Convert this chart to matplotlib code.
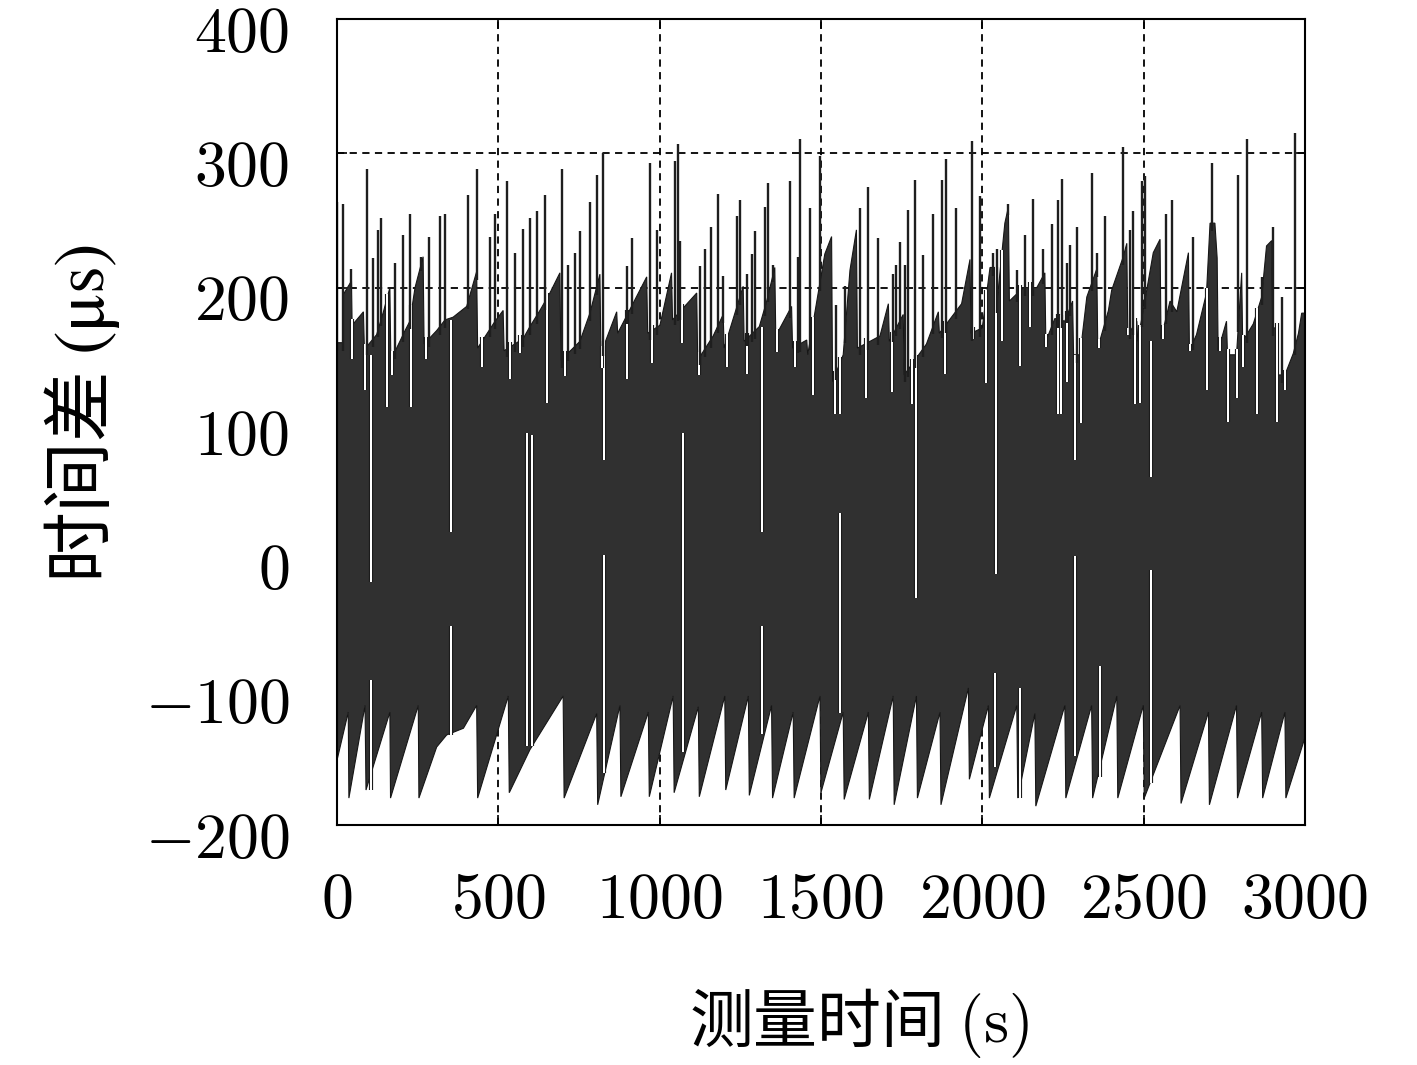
import numpy as np
import matplotlib
matplotlib.use('Agg')
import matplotlib.pyplot as plt
from matplotlib.transforms import ScaledTranslation

plt.rcParams['mathtext.fontset'] = 'cm'
plt.rcParams['font.family'] = ['Noto Sans CJK SC', 'DejaVu Sans']

# lower envelope of the dense signal (sawtooth vertices)
lower_x = [0, 35, 37, 87, 90, 164, 166, 252, 254, 309, 340, 392, 433, 436, 531, 534,
           598, 701, 704, 805, 808, 877, 880, 965, 968, 1042, 1045, 1120, 1123, 1202,
           1205, 1275, 1278, 1347, 1350, 1414, 1417, 1497, 1500, 1569, 1572, 1647,
           1650, 1724, 1727, 1796, 1799, 1869, 1872, 1957, 1960, 2019, 2022, 2107,
           2110, 2163, 2166, 2256, 2259, 2339, 2342, 2417, 2420, 2499, 2502, 2613,
           2616, 2701, 2704, 2788, 2791, 2866, 2869, 2938, 2941, 3000]
lower_y = [-152, -116, -180, -111, -174, -116, -180, -111, -180, -142, -133, -128, -111,
           -180, -104, -176, -144, -104, -180, -117, -185, -111, -179, -116, -179, -104,
           -176, -112, -179, -104, -174, -104, -178, -111, -180, -116, -180, -104, -176,
           -116, -181, -116, -181, -104, -185, -104, -180, -116, -185, -98, -166, -111,
           -180, -111, -180, -117, -186, -111, -180, -111, -180, -104, -180, -111, -180,
           -111, -184, -116, -185, -111, -180, -116, -180, -116, -180, -135]

# upper envelope of the dense part
upper_x = [0, 18, 20, 45, 47, 82, 85, 123, 144, 164, 167, 211, 226, 242, 267, 270, 309,
           335, 360, 402, 433, 436, 490, 515, 518, 577, 598, 629, 660, 691, 694, 753, 784,
           815, 818, 867, 870, 960, 963, 1001, 1037, 1040, 1115, 1118, 1166, 1197, 1200,
           1259, 1262, 1309, 1332, 1357, 1360, 1409, 1412, 1456, 1459, 1512, 1533, 1536,
           1569, 1590, 1610, 1613, 1683, 1709, 1712, 1755, 1758, 1827, 1864, 1867, 1936,
           1962, 1965, 2000, 2024, 2039, 2042, 2070, 2081, 2084, 2127, 2169, 2194, 2197,
           2225, 2256, 2280, 2283, 2303, 2324, 2355, 2358, 2391, 2401, 2437, 2448, 2451,
           2479, 2482, 2530, 2551, 2554, 2582, 2603, 2639, 2642, 2664, 2695, 2706, 2721,
           2728, 2731, 2757, 2760, 2788, 2804, 2807, 2840, 2866, 2881, 2897, 2900, 2912,
           2915, 2938, 2964, 2980, 2990, 3000]
upper_y = [159, 159, 195, 205, 172, 182, 154, 165, 182, 200, 146, 168, 175, 200, 223, 158,
           168, 176, 178, 186, 212, 155, 175, 183, 153, 162, 171, 183, 196, 211, 146, 160,
           181, 210, 151, 182, 166, 208, 166, 172, 211, 176, 196, 146, 164, 180, 155, 201,
           160, 171, 190, 215, 164, 186, 155, 161, 150, 225, 238, 130, 150, 213, 243, 155,
           164, 188, 160, 180, 135, 158, 182, 166, 188, 221, 166, 170, 215, 215, 180, 248,
           260, 190, 200, 200, 211, 160, 177, 175, 190, 150, 150, 193, 214, 155, 183, 198,
           223, 233, 165, 175, 160, 226, 236, 162, 190, 182, 226, 153, 165, 196, 248, 248,
           222, 153, 175, 150, 150, 211, 160, 173, 193, 231, 235, 170, 170, 135, 135, 151,
           166, 181, 181]

# thin upward spikes above the dense part: x, top value
spike_x = [1, 18, 45, 92, 113, 128, 138, 180, 206, 226, 262, 286, 319, 335, 407, 433, 474,
           490, 526, 552, 577, 598, 619, 645, 696, 717, 738, 753, 784, 805, 825, 898, 913,
           970, 991, 1047, 1058, 1063, 1125, 1140, 1158, 1182, 1197, 1239, 1249, 1272,
           1285, 1295, 1326, 1337, 1352, 1404, 1430, 1435, 1466, 1497, 1548, 1574, 1621,
           1647, 1678, 1724, 1734, 1745, 1760, 1771, 1791, 1817, 1848, 1874, 1887, 1920,
           1967, 1993, 2034, 2045, 2081, 2107, 2132, 2158, 2189, 2215, 2236, 2246, 2264,
           2272, 2293, 2339, 2355, 2380, 2437, 2458, 2468, 2494, 2504, 2571, 2587, 2654,
           2711, 2794, 2819, 2866, 2902, 2928, 2969]
spike_top = [264, 262, 214, 288, 222, 243, 252, 218, 239, 255, 223, 238, 253, 255, 269, 288,
             238, 255, 279, 226, 244, 252, 257, 269, 288, 217, 226, 242, 264, 284, 300, 216,
             237, 293, 243, 294, 307, 235, 216, 229, 245, 270, 209, 253, 265, 210, 225, 242,
             260, 278, 217, 279, 223, 311, 259, 298, 187, 201, 259, 275, 237, 210, 217, 234,
             217, 258, 280, 224, 255, 280, 296, 259, 309, 268, 226, 229, 262, 213, 239, 266,
             229, 247, 265, 281, 218, 232, 245, 285, 226, 253, 305, 243, 257, 279, 283, 255,
             265, 238, 293, 284, 311, 208, 245, 193, 315]

# white notches cutting down from the top of the dense part: x, lowest value
notch_x = [48, 86, 154, 172, 231, 276, 448, 536, 568, 650, 707, 820, 898, 975, 1068, 1123,
           1208, 1272, 1363, 1419, 1476, 1543, 1560, 1641, 1719, 1781, 1884, 1972, 2013,
           2060, 2117, 2148, 2199, 2235, 2243, 2262, 2307, 2361, 2453, 2474, 2488, 2560,
           2644, 2695, 2738, 2763, 2788, 2809, 2850, 2912, 2938]
notch_low = [147, 124, 111, 135, 111, 147, 141, 132, 151, 114, 134, 140, 132, 144, 159, 135,
             141, 136, 152, 141, 120, 106, 106, 118, 122, 113, 136, 162, 129, 160, 142, 171,
             156, 106, 106, 130, 99, 155, 165, 113, 114, 162, 153, 124, 153, 100, 118, 141,
             106, 100, 124]

# long white gaps inside the dense part: x, from, to
gap_x = [107, 107, 352, 352, 590, 605, 829, 829, 1073, 1318, 1318, 1559, 1796, 2040, 2043,
         2117, 2287, 2287, 2365, 2524, 2524]
gap_lo = [-19, -174, 18, -133, -141, -141, 72, -161, -146, 18, -132, -117, -31, -157, -13,
          -180, 72, -149, -164, 59, -169]
gap_hi = [150, -92, 176, -52, 92, 90, 160, 1, 92, 171, -52, 32, 150, -87, 215, -98, 150, 0,
          -82, 160, -10]

xticks = [0, 500, 1000, 1500, 2000, 2500, 3000]
yticks = [-200, -100, 0, 100, 200, 300, 400]

fig = plt.figure(figsize=(14.17, 10.65), dpi=100)
ax = fig.add_axes([0.2378, 0.2254, 0.6831, 0.7568])

# dense oscillation drawn as the area between its two envelopes
poly_x = upper_x + lower_x[::-1]
poly_y = upper_y + lower_y[::-1]
ax.fill(poly_x, poly_y, facecolor='#303030', edgecolor='#161616', lw=0.8, zorder=2)

# where the top edge of the dark area sits at each notch / spike
notch_top = np.interp(notch_x, upper_x, upper_y) + 4
spike_base = np.interp(spike_x, upper_x, upper_y) - 6

ax.vlines(gap_x, gap_lo, gap_hi, colors='#111111', lw=3.0, zorder=3)
ax.vlines(gap_x, gap_lo, gap_hi, colors='white', lw=1.5, zorder=3)
ax.vlines(notch_x, notch_low, notch_top, colors='#111111', lw=3.0, zorder=3)
ax.vlines(notch_x, notch_low, notch_top, colors='white', lw=1.5, zorder=3)
ax.vlines(spike_x, spike_base, spike_top, colors='#1e1e1e', lw=1.7, zorder=4)

ax.set_xlim(0, 3000)
ax.set_ylim(-200, 400)
ax.set_xticks(xticks)
ax.set_yticks(yticks)
ax.set_xticklabels(['$%d$' % v for v in xticks], fontsize=46)
ax.set_yticklabels(['$%d$' % v for v in yticks], fontsize=46)
ax.tick_params(axis='x', direction='in', length=7, width=1.2, pad=30, top=True)
ax.tick_params(axis='y', direction='in', length=7, width=1.2, pad=34, right=True)
# y labels sit a little below their ticks in the original
shift = ScaledTranslation(0, -5 / 72, fig.dpi_scale_trans)
for lab in ax.get_yticklabels():
    lab.set_transform(lab.get_transform() + shift)
ax.grid(True, color='black', linestyle=(0, (4, 3)), lw=1.3)
ax.set_axisbelow(True)
for s in ax.spines.values():
    s.set_linewidth(1.5)
    s.set_zorder(6)

ax.set_xlabel('测量时间 $(\\mathrm{s})$', fontsize=46)
ax.set_ylabel('时间差 $(\\mathrm{\\mu s})$', fontsize=51, math_fontfamily='stix')
ax.xaxis.set_label_coords(0.54, -0.20)
ax.yaxis.set_label_coords(-0.222, 0.51)

fig.savefig('out.png', dpi=100)
